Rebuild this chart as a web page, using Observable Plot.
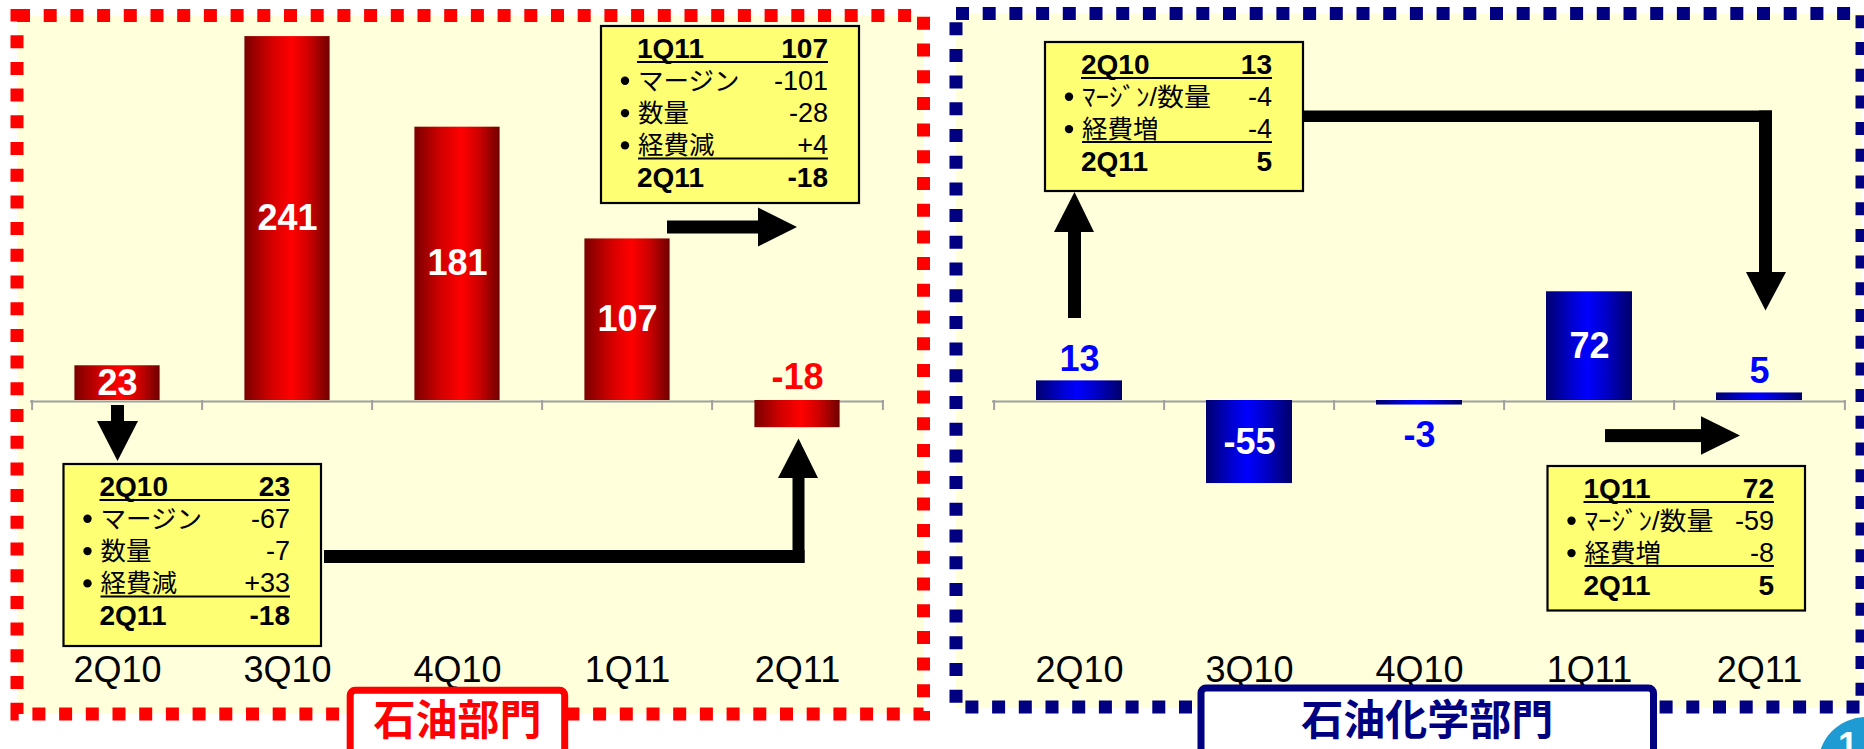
<!DOCTYPE html>
<html><head><meta charset="utf-8">
<script src="https://cdn.jsdelivr.net/npm/d3@7"></script>
<script src="https://cdn.jsdelivr.net/npm/@observablehq/plot@0.6"></script>
<style>
html,body{margin:0;padding:0;background:#fff;}
#stage{position:relative;width:1864px;height:749px;overflow:hidden;background:#fff;font-family:'Liberation Sans',Arial,sans-serif;}
.layer{position:absolute;left:0;top:0;}
</style></head><body>
<div id="stage">
<svg id="bg" class="layer" width="1864" height="749"></svg>
<div id="left" class="layer" style="left:0;width:940px;"></div>
<div id="right" class="layer" style="left:940px;width:924px;"></div>
<svg id="fg" class="layer" width="1864" height="749"></svg>
</div>
<script>
// ---- data ----
const quarters = ["2Q10", "3Q10", "4Q10", "1Q11", "2Q11"];
const refiningIncome = [23, 241, 181, 107, -18];      // 石油部門
const petrochemIncome = [13, -55, -3, 72, 5];         // 石油化学部門
const refiningBridge1Q11 = [["1Q11", "107"], ["マージン", "-101"], ["数量", "-28"], ["経費減", "+4"], ["2Q11", "-18"]];
const refiningBridge2Q10 = [["2Q10", "23"], ["マージン", "-67"], ["数量", "-7"], ["経費減", "+33"], ["2Q11", "-18"]];
const petrochemBridge2Q10 = [["2Q10", "13"], ["ﾏｰｼﾞﾝ/数量", "-4"], ["経費増", "-4"], ["2Q11", "5"]];
const petrochemBridge1Q11 = [["1Q11", "72"], ["ﾏｰｼﾞﾝ/数量", "-59"], ["経費増", "-8"], ["2Q11", "5"]];
const panelTitles = ["石油部門", "石油化学部門"];

// ---- layout ----
const LATIN = "'Liberation Sans', Arial, sans-serif";
const CJK = "'Liberation Sans', 'Noto Sans CJK JP', sans-serif";
const RED = "#FF0000", NAVY = "#000080", BLUE = "#0000FF", CREAM = "#FFFFDC", YELLOW = "#FFFF73";
const pxPerUnit = 1.51, zeroPx = 400, plotH = 749, mBottom = 100;
const innerH = plotH - mBottom;
const yDomain = [-(innerH - zeroPx) / pxPerUnit, zeroPx / pxPerUnit];

// background panels + gradients
const bg = d3.select("#bg");
const defs = bg.append("defs");
function grad(id, stops) {
  const g = defs.append("linearGradient").attr("id", id).attr("x1", 0).attr("x2", 1).attr("y1", 0).attr("y2", 0);
  stops.forEach(([o, c]) => g.append("stop").attr("offset", o).attr("stop-color", c));
}
grad("redGrad", [[0, "#7a0000"], [0.3, "#d00000"], [0.55, "#ff0000"], [0.75, "#d00000"], [1, "#700000"]]);
grad("blueGrad", [[0, "#000070"], [0.3, "#0000d0"], [0.48, "#0000ff"], [0.7, "#0000c8"], [1, "#00006a"]]);
bg.append("rect").attr("x", 17).attr("y", 15.5).attr("width", 906.5).attr("height", 698.5)
  .attr("fill", CREAM).attr("stroke", RED).attr("stroke-width", 13).attr("stroke-dasharray", "13 13.7");
bg.append("rect").attr("x", 956).attr("y", 13.5).attr("width", 906).attr("height", 693.5)
  .attr("fill", CREAM).attr("stroke", NAVY).attr("stroke-width", 13).attr("stroke-dasharray", "13 13.7");

function panel(values, opts) {
  const data = quarters.map((q, i) => ({q, v: values[i]}));
  const bw = (opts.width - opts.ml - opts.mr) / quarters.length;
  const inside = data.filter(d => Math.abs(d.v) >= 20);
  const above = data.filter(d => Math.abs(d.v) < 20 && (d.v > 0 || opts.negAbove));
  const below = data.filter(d => Math.abs(d.v) < 20 && d.v < 0 && !opts.negAbove);
  const tickLen = 10 / pxPerUnit;
  return Plot.plot({
    width: opts.width, height: plotH,
    marginLeft: opts.ml, marginRight: opts.mr, marginTop: 0, marginBottom: mBottom,
    style: {background: "transparent", fontFamily: LATIN, fontSize: "36px", color: "#000", overflow: "visible"},
    x: {type: "band", domain: quarters, padding: 0, tickSize: 0, tickPadding: 7, label: null},
    y: {domain: yDomain, axis: null},
    marks: [
      Plot.ruleY([0], {stroke: "#a0a0a0", strokeWidth: 2.2, dy: 1}),
      Plot.ruleX(quarters, {x: d => d, dx: -bw / 2, y1: 0, y2: -tickLen, stroke: "#a0a0a0", strokeWidth: 2}),
      Plot.ruleX(quarters.slice(-1), {x: d => d, dx: bw / 2, y1: 0, y2: -tickLen, stroke: "#a0a0a0", strokeWidth: 2}),
      Plot.barY(data, {x: "q", y: "v", fill: opts.fill, insetLeft: opts.inset, insetRight: opts.inset}),
      Plot.text(inside, {x: "q", y: d => d.v / 2, text: d => String(d.v), fill: "white", fontSize: 36, fontWeight: "bold"}),
      Plot.text(above, {x: "q", y: d => Math.max(d.v, 0), text: d => String(d.v), fill: opts.labelColor, fontSize: 36, fontWeight: "bold", dy: opts.negAbove ? -23 : -21}),
      Plot.text(below, {x: "q", y: "v", text: d => String(d.v), fill: opts.labelColor, fontSize: 36, fontWeight: "bold", dy: 30})
    ]
  });
}

document.getElementById("left").appendChild(panel(refiningIncome, {width: 940, ml: 30, mr: 56, inset: 42.4, fill: "url(#redGrad)", labelColor: RED, negAbove: true}));
document.getElementById("right").appendChild(panel(petrochemIncome, {width: 924, ml: 52, mr: 18, inset: 42, fill: "url(#blueGrad)", labelColor: BLUE, negAbove: false}));

// ---- annotations ----
const fg = d3.select("#fg");
function box(x, y, w, h, rows) {
  const g = fg.append("g");
  g.append("rect").attr("x", x).attr("y", y).attr("width", w).attr("height", h)
    .attr("fill", YELLOW).attr("stroke", "#000").attr("stroke-width", 2.2);
  const lx = x + 36, bx = x + 24, rx = x + w - 31;
  rows.forEach((r, i) => {
    const cy = y + 22.5 + i * 32.3;
    const strong = i === 0 || i === rows.length - 1;
    if (strong) {
      g.append("text").attr("x", lx).attr("y", cy).attr("dominant-baseline", "central")
        .attr("font-family", LATIN).attr("font-weight", "bold").attr("font-size", 28).text(r[0]);
      g.append("text").attr("x", rx).attr("y", cy).attr("dominant-baseline", "central").attr("text-anchor", "end")
        .attr("font-family", LATIN).attr("font-weight", "bold").attr("font-size", 28).text(r[1]);
    } else {
      g.append("circle").attr("cx", bx).attr("cy", cy).attr("r", 4.2).attr("fill", "#000");
      const t = g.append("text").attr("x", lx + 1).attr("y", cy).attr("dominant-baseline", "central")
        .attr("font-family", CJK).attr("font-size", 25.5).text(r[0]);
      if (r[0].includes("/")) t.attr("textLength", 129).attr("lengthAdjust", "spacingAndGlyphs");
      g.append("text").attr("x", rx).attr("y", cy).attr("dominant-baseline", "central").attr("text-anchor", "end")
        .attr("font-family", LATIN).attr("font-size", 27).text(r[1]);
    }
    if (i === 0 || i === rows.length - 2) {
      const uy = cy + (i === 0 ? 13.5 : 13);
      g.append("line").attr("x1", lx + (i === 0 ? 0 : 1)).attr("x2", rx).attr("y1", uy).attr("y2", uy)
        .attr("stroke", "#000").attr("stroke-width", 2);
    }
  });
}
box(601, 26, 258, 177, refiningBridge1Q11);
box(63.5, 464, 257.5, 182, refiningBridge2Q10);
box(1045, 42, 258, 149, petrochemBridge2Q10);
box(1547.5, 466, 257.5, 144.5, petrochemBridge1Q11);

// arrows
function poly(pts) { fg.append("polygon").attr("points", pts.map(p => p.join(",")).join(" ")).attr("fill", "#000"); }
function rect(x0, y0, x1, y1) { fg.append("rect").attr("x", x0).attr("y", y0).attr("width", x1 - x0).attr("height", y1 - y0).attr("fill", "#000"); }
function arrowRight(x0, xb, xt, yc, t, hh) {
  rect(x0, yc - t / 2, xb + 1, yc + t / 2);
  poly([[xb, yc - hh / 2], [xt, yc], [xb, yc + hh / 2]]);
}
arrowRight(667, 758, 797, 227, 13, 39);
arrowRight(1605, 1701, 1740, 435.6, 13, 38.5);
// down arrow from 2Q10 bar (left)
rect(111, 405, 124, 422);
poly([[97, 421], [138, 421], [117.5, 461]]);
// elbow arrow left box -> 2Q11 bar
rect(324, 550, 804.5, 563);
rect(792.5, 477, 804.5, 563);
poly([[778, 478], [818, 478], [798.5, 438.5]]);
// up arrow 2Q10 bar -> box (right)
rect(1068, 231, 1081, 318);
poly([[1054, 232], [1094, 232], [1074.5, 192]]);
// elbow arrow right box -> 2Q11 bar
rect(1303, 110.5, 1772, 122);
rect(1759, 110.5, 1772, 273);
poly([[1746, 272], [1786, 272], [1765.5, 310.5]]);

// panel titles
function titleBox(x, y, w, color, label) {
  fg.append("rect").attr("x", x).attr("y", y).attr("width", w).attr("height", 90).attr("rx", 5)
    .attr("fill", "#fff").attr("stroke", color).attr("stroke-width", 7);
  fg.append("text").attr("x", x + w / 2).attr("y", 716).attr("text-anchor", "middle").attr("dominant-baseline", "central")
    .attr("font-family", "'Noto Sans CJK JP', sans-serif").attr("font-weight", "bold").attr("font-size", 42)
    .attr("fill", color).text(label);
}
titleBox(350.2, 690.2, 214.5, RED, panelTitles[0]);
titleBox(1201, 688, 452.5, NAVY, panelTitles[1]);

// page badge
fg.append("circle").attr("cx", 1866).attr("cy", 765).attr("r", 48).attr("fill", "#1E9BD2");
fg.append("text").attr("x", 1848).attr("y", 745).attr("dominant-baseline", "central").attr("text-anchor", "middle")
  .attr("font-family", LATIN).attr("font-weight", "bold").attr("font-size", 36).attr("fill", "#fff").text("1");
</script>
</body></html>
